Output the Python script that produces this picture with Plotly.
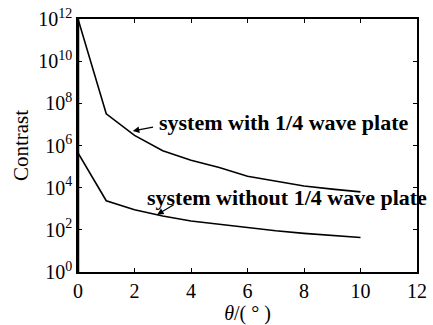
import plotly.graph_objects as go

theta = [0, 1, 2, 3, 4, 5, 6, 7, 8, 9, 10]
with_plate = [1e12, 3.2e7, 3.0e6, 5.6e5, 2.0e5, 9e4, 3.5e4, 2.0e4, 1.2e4, 8.5e3, 6.3e3]
without_plate = [4.4e5, 2.4e3, 9e2, 4.5e2, 2.6e2, 1.8e2, 1.25e2, 90, 68, 52, 43]

ytick_vals = [1, 1e2, 1e4, 1e6, 1e8, 1e10, 1e12]
ytick_text = ["10<sup>0</sup>", "10<sup>2</sup>", "10<sup>4</sup>", "10<sup>6</sup>",
              "10<sup>8</sup>", "10<sup>10</sup>", "10<sup>12</sup>"]
xtick_vals = [0, 2, 4, 6, 8, 10, 12]

label_with = "system with 1/4 wave plate"
label_without = "system without 1/4 wave plate"

FONT = "Liberation Serif, Times New Roman, serif"

fig = go.Figure()
fig.add_trace(go.Scatter(x=theta, y=with_plate, mode="lines",
                         line=dict(color="black", width=1.6), showlegend=False))
fig.add_trace(go.Scatter(x=theta, y=without_plate, mode="lines",
                         line=dict(color="black", width=1.6), showlegend=False))

# labels
fig.add_annotation(x=2.81, y=7.1, text="<b>" + label_with + "</b>", showarrow=False,
                   xanchor="left", yanchor="middle",
                   font=dict(family=FONT, size=22, color="black"))
fig.add_annotation(x=2.36, y=3.55, text="<b>" + label_without + "</b>", showarrow=False,
                   xanchor="left", yanchor="middle",
                   font=dict(family=FONT, size=22, color="black"))
# arrows
fig.add_annotation(x=1.94, y=6.69, ax=2.71, ay=6.88, axref="x", ayref="y",
                   text="", showarrow=True, arrowhead=2, arrowsize=1, arrowwidth=1.3,
                   arrowcolor="black")
fig.add_annotation(x=2.8, y=2.72, ax=3.44, ay=3.23, axref="x", ayref="y",
                   text="", showarrow=True, arrowhead=2, arrowsize=1, arrowwidth=1.3,
                   arrowcolor="black")

# heavier left frame edge, as in the scan
fig.add_shape(type="line", xref="x", yref="paper", x0=0, x1=0, y0=0, y1=1,
              line=dict(color="black", width=2.5))

axis_common = dict(showline=True, linecolor="black", linewidth=1.5, mirror="ticks",
                   ticks="inside", ticklen=4, tickcolor="black", showgrid=False,
                   zeroline=False, ticklabeloverflow="allow",
                   tickfont=dict(family=FONT, size=20, color="black"))

fig.update_xaxes(range=[0, 12], tickvals=xtick_vals, ticktext=[str(v) for v in xtick_vals],
                 title=dict(text="<i>θ</i>/( ° )", font=dict(family=FONT, size=20, color="black"),
                            standoff=3),
                 **axis_common)
fig.update_yaxes(type="log", range=[0, 12], tickvals=ytick_vals, ticktext=ytick_text,
                 title=dict(text="Contrast", font=dict(family=FONT, size=21, color="black"),
                            standoff=4),
                 **axis_common)

fig.update_layout(width=433, height=325, margin=dict(l=78, r=6, t=15, b=49),
                  plot_bgcolor="white", paper_bgcolor="white")

fig.write_html("out.html")
